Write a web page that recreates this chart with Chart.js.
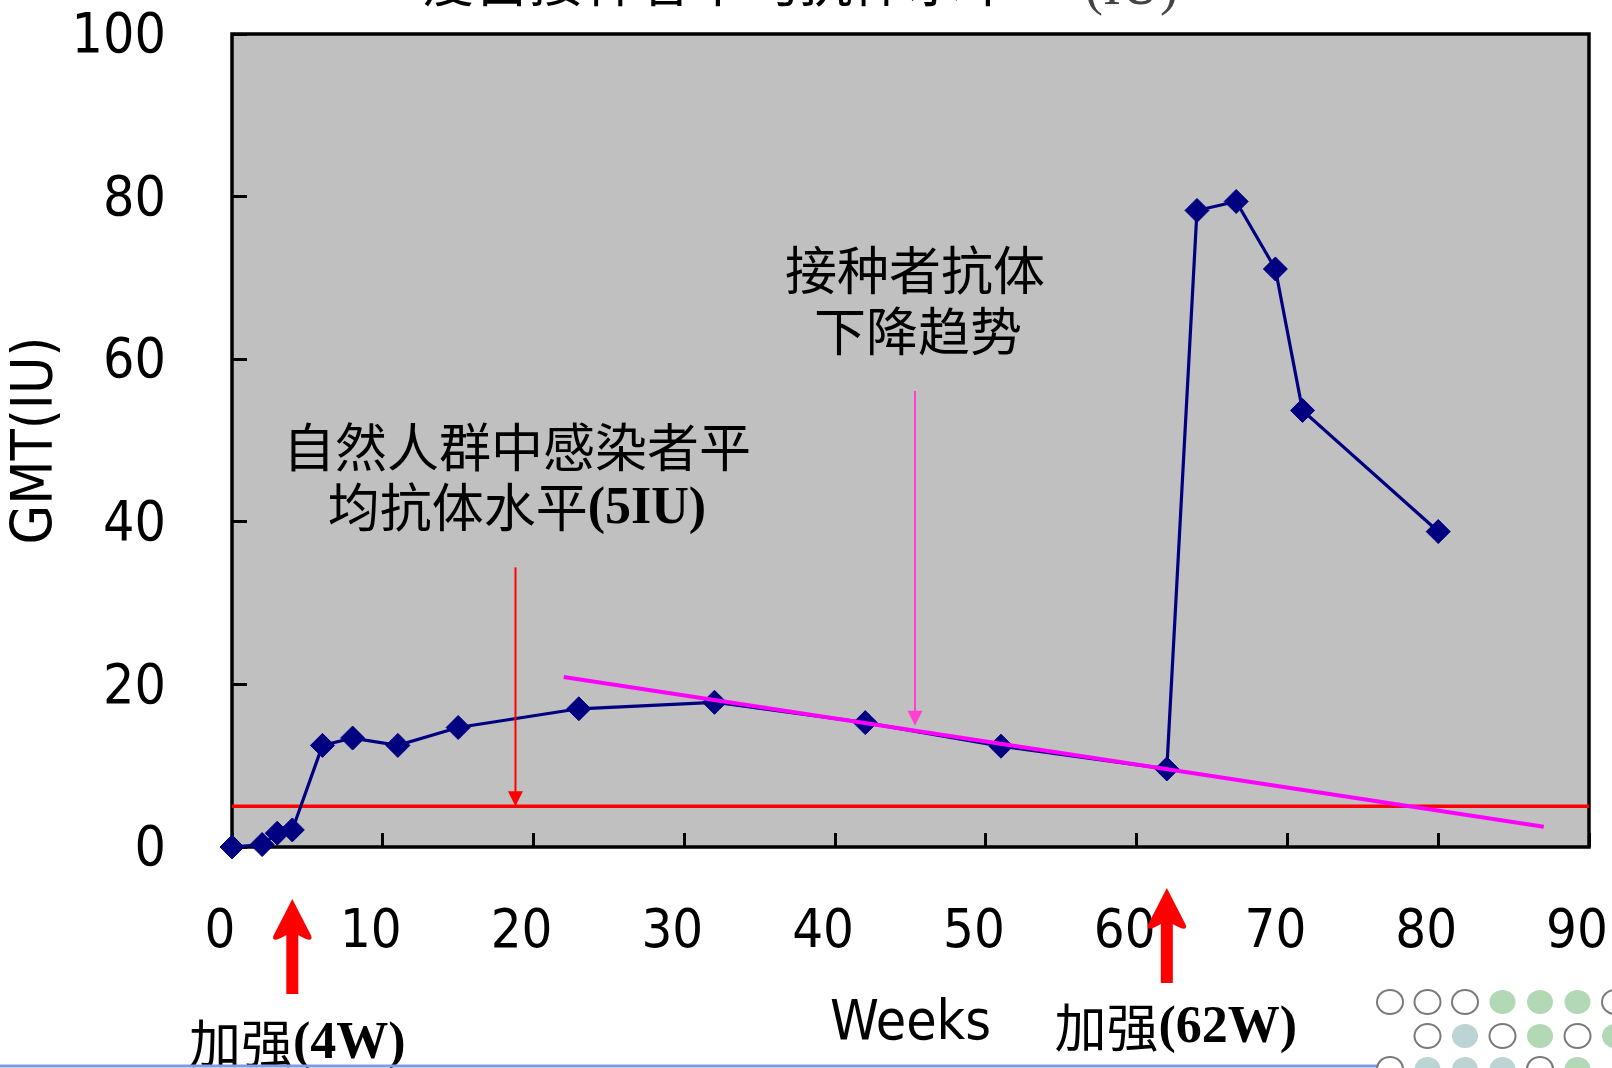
<!DOCTYPE html>
<html lang="zh">
<head>
<meta charset="utf-8">
<title>疫苗接种者平均抗体水平</title>
<script src="https://cdn.jsdelivr.net/npm/chart.js@4.4.1/dist/chart.umd.min.js"></script>
<style>
  html, body { margin: 0; padding: 0; background: #fff; }
  canvas { display: block; }
</style>
</head>
<body>
<canvas id="gmtChart" width="1612" height="1068"></canvas>
<script>
// weeks after the first dose and the vaccinees' GMT (IU)
const weeks = [0, 2, 3, 4, 6, 8, 11, 15, 23, 32, 42, 51, 62, 64, 66.6, 69.2, 71, 80];
const gmt = [0, 0.3, 1.7, 2.1, 12.5, 13.4, 12.5, 14.7, 17.0, 17.8, 15.3, 12.4, 9.6, 78.3, 79.4, 71.1, 53.7, 38.8];

// declining trend of the vaccinees' antibody level
const trendWeeks = [22, 87];
const trendGmt = [20.9, 2.5];

// mean antibody level of naturally infected people
const naturalLevel = 5;

// booster doses
const boosterWeeks = [4, 62];
const boosterLabels = ['4W', '62W'];

// axis ranges
const xRange = [0, 90, 10];
const yRange = [0, 100, 20];

// pointer arrows inside the plot: week, start level, end level
const naturalArrow = { week: 18.8, from: 34.4, to: naturalLevel };
const trendArrow = { week: 45.3, from: 56.1, to: 14.9 };

const SANS = "'DejaVu Sans Condensed', 'DejaVu Sans', sans-serif";
const CJK = "'Noto Sans CJK SC', sans-serif";
const SERIF = "'Liberation Serif', serif";

// draw a line of mixed CJK / bold Latin pieces centred on (cx, cy)
function drawMixed(ctx, pieces, cx, cy, size) {
  ctx.save();
  ctx.textBaseline = 'middle';
  ctx.textAlign = 'left';
  ctx.fillStyle = '#000';
  const fonts = pieces.map(p => p.latin ? `bold ${size}px ${SERIF}` : `normal ${size}px ${CJK}`);
  let total = 0;
  const widths = pieces.map((p, i) => {
    ctx.font = fonts[i];
    const w = ctx.measureText(p.text).width;
    total += w;
    return w;
  });
  let x = cx - total / 2;
  pieces.forEach((p, i) => {
    ctx.font = fonts[i];
    ctx.fillText(p.text, x, cy + (p.latin ? 2 : 0));
    x += widths[i];
  });
  ctx.restore();
}

function thinArrow(ctx, x, y0, y1, color) {
  ctx.save();
  ctx.strokeStyle = color;
  ctx.fillStyle = color;
  ctx.lineWidth = 2;
  ctx.beginPath();
  ctx.moveTo(x, y0);
  ctx.lineTo(x, y1 - 12);
  ctx.stroke();
  ctx.beginPath();
  ctx.moveTo(x, y1);
  ctx.lineTo(x - 7.5, y1 - 15);
  ctx.lineTo(x + 7.5, y1 - 15);
  ctx.closePath();
  ctx.fill();
  ctx.restore();
}

function boosterArrow(ctx, x, top, bottom) {
  ctx.save();
  ctx.fillStyle = '#ff0000';
  ctx.beginPath();
  ctx.moveTo(x, top);
  ctx.lineTo(x + 19, top + 37);
  ctx.quadraticCurveTo(x + 21, top + 45, x + 6, top + 36);
  ctx.lineTo(x + 6, bottom);
  ctx.lineTo(x - 6, bottom);
  ctx.lineTo(x - 6, top + 36);
  ctx.quadraticCurveTo(x - 21, top + 45, x - 19, top + 37);
  ctx.closePath();
  ctx.fill();
  ctx.restore();
}

// the tick padding would otherwise be added around the plot as well
function noEdgePadding(scale) {
  scale.paddingTop = 0;
  scale.paddingBottom = 0;
  scale.paddingLeft = 0;
  scale.paddingRight = 0;
}

const slidePlugin = {
  id: 'slide',
  beforeDraw(chart) {
    const { ctx, chartArea: a } = chart;
    ctx.save();
    ctx.fillStyle = '#c0c0c0';
    ctx.fillRect(a.left, a.top, a.right - a.left, a.bottom - a.top);
    ctx.restore();
  },
  beforeDatasetsDraw(chart) {
    const { ctx, chartArea: a } = chart;
    ctx.save();
    ctx.strokeStyle = '#000';
    ctx.lineWidth = 3.5;
    ctx.strokeRect(a.left, a.top, a.right - a.left, a.bottom - a.top);
    ctx.restore();
  },
  afterDatasetsDraw(chart) {
    const { ctx } = chart;
    const xs = chart.scales.x, ys = chart.scales.y;
    thinArrow(ctx, xs.getPixelForValue(naturalArrow.week), ys.getPixelForValue(naturalArrow.from),
      ys.getPixelForValue(naturalArrow.to), '#ff0000');
    thinArrow(ctx, xs.getPixelForValue(trendArrow.week), ys.getPixelForValue(trendArrow.from),
      ys.getPixelForValue(trendArrow.to), '#ff40d0');

    drawMixed(ctx, [{ text: '自然人群中感染者平' }], xs.getPixelForValue(18.9), ys.getPixelForValue(49.2), 52);
    drawMixed(ctx, [{ text: '均抗体水平' }, { text: '(5IU)', latin: true }],
      xs.getPixelForValue(18.9), ys.getPixelForValue(41.8), 52);
    drawMixed(ctx, [{ text: '接种者抗体' }], xs.getPixelForValue(45.3), ys.getPixelForValue(71.0), 52);
    drawMixed(ctx, [{ text: '下降趋势' }], xs.getPixelForValue(45.5), ys.getPixelForValue(63.5), 52);
  },
  afterDraw(chart) {
    const { ctx } = chart;
    const xs = chart.scales.x;

    // heading, mostly above the top edge of the slide
    ctx.save();
    ctx.fillStyle = '#000';
    ctx.textBaseline = 'alphabetic';
    ctx.font = `normal 54px ${CJK}`;
    ctx.fillText('疫苗接种者平均抗体水平', 421, 2);
    ctx.font = `normal 54px ${SERIF}`;
    ctx.fillStyle = '#444';
    ctx.fillText('(IU)', 1085, 4);
    ctx.restore();

    // booster arrows under the axis
    const tops = [899, 888];
    const labelY = [1043, 1027];
    boosterWeeks.forEach((w, i) => {
      const x = xs.getPixelForValue(w);
      boosterArrow(ctx, x, tops[i], tops[i] + 95);
      drawMixed(ctx, [{ text: '加强' }, { text: '(' + boosterLabels[i] + ')', latin: true }],
        x + (i ? 9 : 5), labelY[i], 52);
    });

    // slide footer: rule and dotted ornament
    ctx.save();
    ctx.strokeStyle = '#7f9be6';
    ctx.lineWidth = 3;
    ctx.beginPath();
    ctx.moveTo(0, 1066);
    ctx.lineTo(1378, 1066);
    ctx.stroke();

    const rows = [
      { y: 1002, x0: 1390, kinds: 'ooogggo' },
      { y: 1036, x0: 1427.5, kinds: 'otogog' },
      { y: 1069, x0: 1390, kinds: 'otttog' }
    ];
    rows.forEach(r => {
      [...r.kinds].forEach((k, i) => {
        const cx = r.x0 + i * 37.5;
        ctx.beginPath();
        ctx.ellipse(cx, r.y, 13, 12, 0, 0, Math.PI * 2);
        if (k === 'o') {
          ctx.fillStyle = '#fff';
          ctx.fill();
          ctx.strokeStyle = '#7a7a7a';
          ctx.lineWidth = 2;
          ctx.stroke();
        } else {
          ctx.fillStyle = k === 'g' ? '#b2d8b6' : '#bcd4d3';
          ctx.fill();
        }
      });
    });
    ctx.restore();
  }
};

const config = {
  type: 'scatter',
  data: {
    datasets: [
      {
        // trend line, drawn on top
        data: trendWeeks.map((w, i) => ({ x: w, y: trendGmt[i] })),
        showLine: true,
        borderColor: '#ff00ff',
        borderWidth: 4,
        pointRadius: 0,
        clip: false
      },
      {
        data: weeks.map((w, i) => ({ x: w, y: gmt[i] })),
        showLine: true,
        borderColor: '#000080',
        backgroundColor: '#000080',
        borderWidth: 3.2,
        pointStyle: 'rectRot',
        pointRadius: 12,
        pointBorderWidth: 1,
        tension: 0,
        clip: false
      },
      {
        data: [{ x: xRange[0], y: naturalLevel }, { x: xRange[1], y: naturalLevel }],
        showLine: true,
        borderColor: '#ff0000',
        borderWidth: 3.5,
        pointRadius: 0
      }
    ]
  },
  options: {
    responsive: false,
    animation: false,
    events: [],
    layout: { padding: { left: 0, top: 34, right: 23, bottom: 0 } },
    plugins: { legend: { display: false }, tooltip: { enabled: false } },
    scales: {
      x: {
        type: 'linear',
        min: xRange[0],
        max: xRange[1],
        border: { display: false },
        grid: { drawOnChartArea: false, drawTicks: true, tickLength: -14, tickWidth: 3, tickColor: '#000' },
        ticks: {
          stepSize: xRange[2],
          autoSkip: false,
          maxRotation: 0,
          padding: 68,
          labelOffset: -12,
          color: '#000',
          font: { family: SANS, size: 54 }
        },
        title: {
          display: true,
          text: 'Weeks',
          color: '#000',
          font: { family: SANS, size: 55 },
          padding: { top: 4, bottom: 10 }
        },
        afterFit(scale) {
          scale.height = 221;
          noEdgePadding(scale);
        }
      },
      y: {
        type: 'linear',
        min: yRange[0],
        max: yRange[1],
        border: { display: false },
        grid: { drawOnChartArea: false, drawTicks: true, tickLength: -15, tickWidth: 3, tickColor: '#000' },
        ticks: {
          stepSize: yRange[2],
          padding: 81,
          labelOffset: 4,
          color: '#000',
          font: { family: SANS, size: 55 }
        },
        title: {
          display: true,
          text: 'GMT(IU)',
          color: '#000',
          font: { family: SANS, size: 57 },
          padding: { top: 3, bottom: 4 }
        },
        afterFit(scale) {
          scale.width = 232;
          noEdgePadding(scale);
        }
      }
    }
  },
  plugins: [slidePlugin]
};

document.addEventListener('DOMContentLoaded', () => {
  new Chart(document.getElementById('gmtChart'), config);
});
</script>
</body>
</html>
